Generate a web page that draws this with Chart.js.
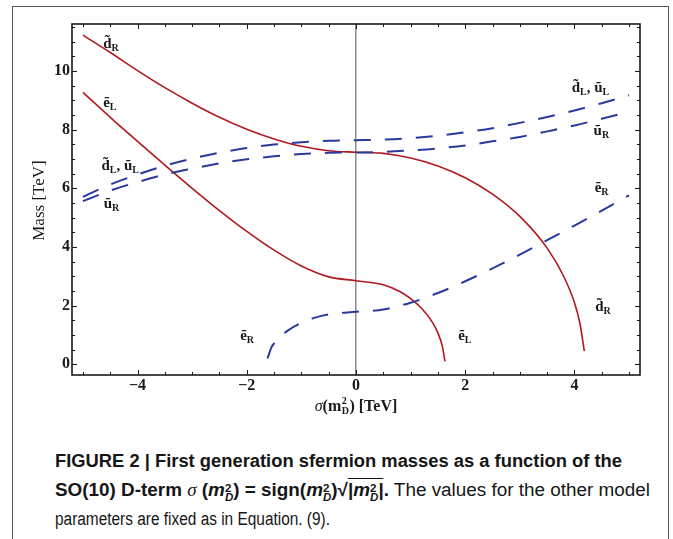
<!DOCTYPE html>
<html>
<head>
<meta charset="utf-8">
<script src="https://cdn.jsdelivr.net/npm/chart.js@4.4.1/dist/chart.umd.min.js"></script>
<style>
  html, body { margin: 0; padding: 0; background: #fff; }
  body { width: 673px; height: 539px; position: relative; overflow: hidden; }
  #frame { position: absolute; left: 12px; top: 6px; width: 655px; height: 600px;
           border: 1.5px solid #555; border-bottom: none; }
  #wrap { position: absolute; left: 0; top: 0; width: 673px; height: 430px; }
  .cap { position: absolute; left: 55px; font-family: "Liberation Sans", Arial, sans-serif;
         font-size: 18px; line-height: 20px; color: #161616; white-space: nowrap; transform-origin: 0 0; }
  .sig { font-family: "Liberation Serif", serif; font-style: italic; font-weight: normal; }
  .ss { display: inline-block; vertical-align: -5px; font-size: 11px; line-height: 9px; text-align: left; }
  .ss span { display: block; }
  .ov { border-top: 1.5px solid #161616; padding-top: 1px; }
</style>
</head>
<body>
<div id="frame"></div>
<div id="wrap"><canvas id="chart"></canvas></div>

<div class="cap" data-w="567" style="top:451px"><b>FIGURE 2 | First generation sfermion masses as a function of the</b></div>
<div class="cap" data-w="595" style="top:480px"><b>SO(10) D-term <span class="sig">σ</span> (<i>m</i><span class="ss"><span>2</span><span><i>D</i></span></span>) = sign(<i>m</i><span class="ss"><span>2</span><span><i>D</i></span></span>)√<span class="ov">|<i>m</i><span class="ss"><span>2</span><span><i>D</i></span></span>|</span>.</b> The values for the other model</div>
<div class="cap" data-w="275" style="top:509px">parameters are fixed as in Equation. (9).</div>

<script>
// sigma(m_D^2) in TeV
const sigmaSq = [-5, -4.5, -4, -3.5, -3, -2.5, -2, -1.5, -1, -0.5, 0, 0.5, 1, 1.5, 2, 2.5, 3, 3.5, 4, 4.5, 5];
// d_L, u_L (upper blue dashed), TeV
const massDLUL = [5.71, 6.13, 6.47, 6.77, 7.01, 7.21, 7.37, 7.49, 7.57, 7.62, 7.64, 7.66, 7.71, 7.79, 7.91, 8.05, 8.23, 8.43, 8.65, 8.90, 9.17];
// u_R (lower blue dashed)
const massUR = [5.56, 5.92, 6.21, 6.47, 6.67, 6.85, 6.99, 7.09, 7.17, 7.21, 7.22, 7.24, 7.29, 7.36, 7.46, 7.60, 7.75, 7.94, 8.14, 8.37, 8.61];

// d_R (red, upper)
const sigmaDR = [-5, -4.5, -4, -3.5, -3, -2.5, -2, -1.5, -1, -0.5, 0, 0.5, 1, 1.5, 2, 2.5, 3, 3.5, 3.8, 4.0, 4.1, 4.18];
const massDR = [11.22, 10.63, 10.01, 9.43, 8.90, 8.42, 8.01, 7.68, 7.43, 7.28, 7.23, 7.19, 7.03, 6.76, 6.36, 5.80, 5.04, 3.96, 3.01, 2.10, 1.40, 0.45];

// e_L (red, lower)
const sigmaEL = [-5, -4.5, -4, -3.5, -3, -2.5, -2, -1.5, -1, -0.5, 0, 0.5, 0.8, 1.0, 1.2, 1.4, 1.5, 1.58, 1.63];
const massEL = [9.27, 8.42, 7.60, 6.79, 6.00, 5.24, 4.53, 3.89, 3.35, 2.98, 2.85, 2.71, 2.48, 2.24, 1.91, 1.43, 1.07, 0.62, 0.10];

// e_R (blue dashed, lower)
const sigmaER = [-1.62, -1.55, -1.5, -1.4, -1.25, -1, -0.75, -0.5, 0, 0.5, 1, 1.5, 2, 2.5, 3, 3.5, 4, 4.5, 5];
const massER = [0.20, 0.57, 0.71, 0.92, 1.15, 1.41, 1.59, 1.70, 1.79, 1.87, 2.10, 2.43, 2.83, 3.27, 3.74, 4.23, 4.73, 5.24, 5.76];

// curve labels: anchor (sigma, mass) of text baseline-left, and [letter, subscript] parts
const curveLabels = [
  { x: -4.63, y: 10.78, parts: [['d\u0303', 'R']] },
  { x: -4.63, y: 8.76, parts: [['ẽ', 'L']] },
  { x: -4.66, y: 6.62, parts: [['d\u0303', 'L'], [', ', ''], ['ũ', 'L']] },
  { x: -4.62, y: 5.34, parts: [['ũ', 'R']] },
  { x: -2.12, y: 0.83, parts: [['ẽ', 'R']] },
  { x: 1.87, y: 0.83, parts: [['ẽ', 'L']] },
  { x: 3.95, y: 9.29, parts: [['d\u0303', 'L'], [', ', ''], ['ũ', 'L']] },
  { x: 4.35, y: 7.82, parts: [['ũ', 'R']] },
  { x: 4.37, y: 5.86, parts: [['ẽ', 'R']] },
  { x: 4.38, y: 1.81, parts: [['d\u0303', 'R']] }
];

const RED = '#b01a1f';
const BLUE = '#2a3a9c';
const SERIF = '"Liberation Serif", "Times New Roman", serif';

function pts(xs, ys) { return xs.map((x, i) => ({ x: x, y: ys[i] })); }

function solid(data) {
  return { data: data, borderColor: RED, borderWidth: 1.6, pointRadius: 0, showLine: true, fill: false,
           cubicInterpolationMode: 'monotone' };
}
function dashed(data) {
  return { data: data, borderColor: BLUE, borderWidth: 2, borderDash: [17, 14], pointRadius: 0,
           showLine: true, fill: false, cubicInterpolationMode: 'monotone' };
}

function isMajor(v) { return Math.abs(v % 2) < 1e-9; }

function drawParts(ctx, x, y, parts) {
  let cx = x;
  parts.forEach(([main, sub]) => {
    ctx.font = 'bold 15px ' + SERIF;
    ctx.fillText(main, cx, y);
    cx += ctx.measureText(main).width;
    if (sub) {
      ctx.font = 'bold 10px ' + SERIF;
      ctx.fillText(sub, cx, y + 3);
      cx += ctx.measureText(sub).width;
    }
  });
}

const framePlugin = {
  id: 'frame',
  afterDatasetsDraw(chart) {
    const { ctx, chartArea: a, scales } = chart;
    const sx = scales.x, sy = scales.y;
    ctx.save();

    // inward tick marks on all four sides
    ctx.strokeStyle = '#1a1a1a';
    ctx.lineWidth = 1;
    ctx.beginPath();
    sx.ticks.forEach(t => {
      const p = Math.round(sx.getPixelForValue(t.value)) + 0.5;
      const l = isMajor(t.value) ? 5 : 3;
      ctx.moveTo(p, a.bottom); ctx.lineTo(p, a.bottom - l);
      ctx.moveTo(p, a.top); ctx.lineTo(p, a.top + l);
    });
    sy.ticks.forEach(t => {
      const p = Math.round(sy.getPixelForValue(t.value)) + 0.5;
      const l = isMajor(t.value) ? 5 : 3;
      ctx.moveTo(a.left, p); ctx.lineTo(a.left + l, p);
      ctx.moveTo(a.right, p); ctx.lineTo(a.right - l, p);
    });
    ctx.stroke();

    ctx.lineWidth = 1.6;
    ctx.strokeRect(a.left, a.top, a.right - a.left, a.bottom - a.top);

    // curve labels
    ctx.fillStyle = '#1a1a1a';
    ctx.textAlign = 'left';
    ctx.textBaseline = 'alphabetic';
    curveLabels.forEach(lb => {
      drawParts(ctx, sx.getPixelForValue(lb.x), sy.getPixelForValue(lb.y), lb.parts);
    });

    // x axis title: sigma(m_D^2) [TeV]
    const segs = [
      ['σ', 'italic 16px ' + SERIF],
      ['(', 'bold 16px ' + SERIF],
      ['m', 'bold 16px ' + SERIF]
    ];
    const tail = [') [TeV]', 'bold 16px ' + SERIF];
    let w = 0;
    segs.forEach(s => { ctx.font = s[1]; w += ctx.measureText(s[0]).width; });
    ctx.font = 'bold 10px ' + SERIF;
    const ssw = Math.max(ctx.measureText('2').width, ctx.measureText('D').width) + 1;
    w += ssw;
    ctx.font = tail[1]; w += ctx.measureText(tail[0]).width;
    let cx = (a.left + a.right) / 2 - w / 2;
    const by = 411;
    segs.forEach(s => { ctx.font = s[1]; ctx.fillText(s[0], cx, by); cx += ctx.measureText(s[0]).width; });
    ctx.font = 'bold 10px ' + SERIF;
    ctx.fillText('2', cx + 0.5, by - 7);
    ctx.fillText('D', cx + 0.5, by + 3);
    cx += ssw;
    ctx.font = tail[1];
    ctx.fillText(tail[0], cx, by);

    // y axis title
    ctx.save();
    ctx.translate(40, (a.top + a.bottom) / 2 + 1);
    ctx.rotate(-Math.PI / 2);
    ctx.textAlign = 'center';
    ctx.textBaseline = 'middle';
    ctx.font = '17px ' + SERIF;
    ctx.fillText('Mass [TeV]', 0, 0);
    ctx.restore();

    ctx.restore();
  }
};

new Chart(document.getElementById('chart'), {
  type: 'scatter',
  data: {
    datasets: [
      dashed(pts(sigmaSq, massDLUL)),
      dashed(pts(sigmaSq, massUR)),
      dashed(pts(sigmaER, massER)),
      solid(pts(sigmaDR, massDR)),
      solid(pts(sigmaEL, massEL))
    ]
  },
  options: {
    responsive: true,
    maintainAspectRatio: false,
    animation: false,
    layout: { padding: { left: 0, top: 24, right: 33, bottom: 0 } },
    plugins: { legend: { display: false }, tooltip: { enabled: false } },
    scales: {
      x: {
        type: 'linear', min: -5.2, max: 5.2,
        afterFit: s => { s.height = 55; },
        border: { display: false },
        grid: {
          drawTicks: false,
          color: c => (c.tick && c.tick.value === 0 ? '#8c8c8c' : 'rgba(0,0,0,0)'),
          lineWidth: 1.5
        },
        ticks: {
          stepSize: 0.5, includeBounds: false, autoSkip: false, maxRotation: 0, padding: 1,
          color: '#1a1a1a', font: { family: SERIF, size: 16, weight: 'bold' },
          callback: v => (isMajor(v) ? String(v).replace('-', '\u2212') : '')
        }
      },
      y: {
        type: 'linear', min: -0.365, max: 11.6,
        afterFit: s => { s.width = 72; },
        border: { display: false },
        grid: { display: false, drawTicks: false },
        ticks: {
          stepSize: 0.5, includeBounds: false, autoSkip: false, padding: 2,
          color: '#1a1a1a', font: { family: SERIF, size: 16, weight: 'bold' },
          callback: v => (isMajor(v) ? String(v) : '')
        }
      }
    }
  },
  plugins: [framePlugin]
});

// squeeze caption lines to the widths they take in the figure
document.querySelectorAll('.cap').forEach(el => {
  const target = +el.dataset.w;
  const actual = el.getBoundingClientRect().width;
  el.style.transform = 'scaleX(' + (target / actual) + ')';
});
</script>
</body>
</html>
